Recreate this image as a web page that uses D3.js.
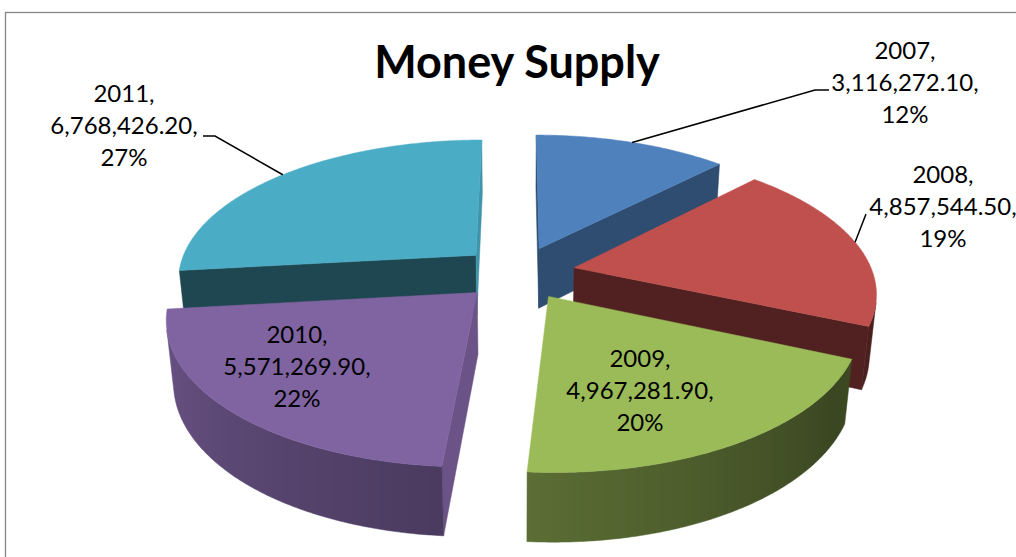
<!DOCTYPE html>
<html>
<head>
<meta charset="utf-8">
<script src="https://cdn.jsdelivr.net/npm/d3@7"></script>
<style>
  html, body { margin: 0; padding: 0; background: #ffffff; }
  svg { display: block; }
</style>
</head>
<body>
<script>
// ---- data ----
const years = ["2007", "2008", "2009", "2010", "2011"];
const values = [3116272.10, 4857544.50, 4967281.90, 5571269.90, 6768426.20];
const sliceColors = ["#4f81bd", "#c0504d", "#9bbb59", "#8064a2", "#4bacc6"];
const chartTitle = "Money Supply";

// ---- layout ----
const W = 1016, H = 557;
const view = {
  cx: 518, cy: 272.8,      // screen position of the pie centre (top plane)
  radius: 298.6,           // pie radius, world units
  explode: 57.5,           // slice offset along its mid angle
  depth: 70,               // pie thickness
  tilt: Math.asin(0.466),  // camera elevation
  dist: 1635               // camera distance (also focal length)
};
// label placement: text anchor (centre x, first baseline), leader end points
const labelLayout = [
  { x: 905, y: 59.3, leader: [[815, 90], [829, 90]] },
  { x: 943, y: 183.3, leader: [[866, 214]] },
  { x: 640, y: 367.3 },
  { x: 297, y: 343.3 },
  { x: 124, y: 102, leader: [[215, 136], [203, 136]] }
];
const lineGap = 32;

// shading factors by outward-normal direction (degrees clockwise from the back)
const sideShade = [[0, 0.40], [90, 0.40], [125, 0.38], [185, 0.59], [270, 0.86], [360, 0.40]];
const cutShade = [[0, 0.6], [90, 0.86], [133, 0.6], [173, 0.41], [202, 0.41], [270, 0.6], [360, 0.6]];

function interp(table, deg) {
  deg = ((deg % 360) + 360) % 360;
  for (let i = 0; i < table.length - 1; i++) {
    const [a0, v0] = table[i], [a1, v1] = table[i + 1];
    if (deg >= a0 && deg <= a1) return v0 + (v1 - v0) * (deg - a0) / (a1 - a0);
  }
  return table[table.length - 1][1];
}
function shade(color, k) {
  const c = d3.rgb(color);
  return d3.rgb(c.r * k, c.g * k, c.b * k).formatHex();
}

// ---- 3D projection ----
const sT = Math.sin(view.tilt), cT = Math.cos(view.tilt);
const camera = [0, view.dist * sT, view.dist * cT];
function project([X, Y, Z]) {
  const yc = Y * cT - Z * sT;
  const d = view.dist - Z * cT - Y * sT;
  return [view.cx + view.dist * X / d, view.cy - view.dist * yc / d];
}
function onRim(off, angle, r, Y) {
  return [off[0] + r * Math.sin(angle), Y, off[1] - r * Math.cos(angle)];
}
function facing(P, n) {
  return (camera[0] - P[0]) * n[0] + (camera[2] - P[2]) * n[1] > 0;
}
const toDeg = a => a * 180 / Math.PI;

// ---- svg ----
const svg = d3.select("body").append("svg").attr("width", W).attr("height", H);
const defs = svg.append("defs");

// chart area border
svg.append("rect")
  .attr("x", 5.5).attr("y", 12.5).attr("width", W + 20).attr("height", H + 20)
  .attr("fill", "#ffffff").attr("stroke", "#868686").attr("stroke-width", 1.3);

const pie = d3.pie().sort(null).value(d => d)
  .startAngle(0).endAngle(2 * Math.PI);
const arcs = pie(values);
const total = d3.sum(values);
const fmtValue = d3.format(",.2f");
const fmtPct = d3.format(".0%");

const R = view.radius, h = view.depth;
const line = d3.line();

const slices = arcs.map((a, i) => {
  const mid = (a.startAngle + a.endAngle) / 2;
  const off = [view.explode * Math.sin(mid), -view.explode * Math.cos(mid)];
  const faces = [];
  const steps = Math.max(4, Math.ceil(toDeg(a.endAngle - a.startAngle) * 2));
  const angs = d3.range(steps + 1).map(k => a.startAngle + (a.endAngle - a.startAngle) * k / steps);
  const apexTop = [off[0], 0, off[1]], apexBot = [off[0], -h, off[1]];

  // radial cut faces
  const cuts = [
    { ang: a.startAngle, n: [-Math.cos(a.startAngle), -Math.sin(a.startAngle)], dir: toDeg(a.startAngle) - 90 },
    { ang: a.endAngle, n: [Math.cos(a.endAngle), Math.sin(a.endAngle)], dir: toDeg(a.endAngle) + 90 }
  ];
  cuts.forEach(cf => {
    const oT = onRim(off, cf.ang, R, 0), oB = onRim(off, cf.ang, R, -h);
    const midP = onRim(off, cf.ang, R / 2, -h / 2);
    if (facing(midP, cf.n)) {
      faces.push({ pts: [apexTop, oT, oB, apexBot].map(project), fill: shade(sliceColors[i], interp(cutShade, cf.dir)) });
    }
  });

  // curved outer side: visible run drawn as one band with a horizontal shading ramp
  const vis = angs.filter(t => facing(onRim(off, t, R, -h / 2), [Math.sin(t), -Math.cos(t)]));
  if (vis.length > 1) {
    const topPts = vis.map(t => project(onRim(off, t, R, 0)));
    const botPts = vis.map(t => project(onRim(off, t, R, -h))).reverse();
    const xs = topPts.map(p => p[0]);
    const x0 = d3.min(xs), x1 = d3.max(xs);
    const gid = "side-" + years[i];
    const stops = vis.map((t, k) => ({
      o: x1 > x0 ? (xs[k] - x0) / (x1 - x0) : 0,
      c: shade(sliceColors[i], interp(sideShade, toDeg(t)))
    })).sort((p, q) => p.o - q.o);
    const grad = defs.append("linearGradient").attr("id", gid)
      .attr("gradientUnits", "userSpaceOnUse")
      .attr("x1", x0).attr("y1", 0).attr("x2", x1).attr("y2", 0);
    grad.selectAll("stop").data(stops).join("stop")
      .attr("offset", d => d.o).attr("stop-color", d => d.c);
    faces.push({ pts: [...topPts, ...botPts], fill: `url(#${gid})` });
  }

  // top face
  faces.push({ pts: [apexTop, ...angs.map(t => onRim(off, t, R, 0))].map(project), fill: sliceColors[i] });

  const c = onRim(off, mid, R * 0.5, -h / 2);
  const dist = Math.hypot(c[0] - camera[0], c[1] - camera[1], c[2] - camera[2]);
  return { i, a, mid, off, faces, dist };
});

// farthest slices first
const pieG = svg.append("g").attr("class", "pie");
slices.slice().sort((p, q) => q.dist - p.dist).forEach(sl => {
  const g = pieG.append("g").attr("class", "slice-" + years[sl.i]);
  g.selectAll("path").data(sl.faces).join("path")
    .attr("d", f => line(f.pts) + "Z")
    .attr("fill", f => f.fill)
    .attr("stroke", f => f.fill)
    .attr("stroke-width", 0.5)
    .attr("stroke-linejoin", "round");
});

// title
svg.append("text")
  .attr("x", 517).attr("y", 78)
  .attr("text-anchor", "middle")
  .attr("font-family", "Lato, 'Open Sans', sans-serif")
  .attr("font-weight", "bold")
  .attr("font-size", 45)
  .attr("fill", "#000")
  .text(chartTitle);

// leader lines and data labels
const labelG = svg.append("g").attr("class", "labels");
slices.forEach(sl => {
  const L = labelLayout[sl.i];
  if (L.leader) {
    const start = project(onRim(sl.off, sl.mid, R, 0));
    labelG.append("path")
      .attr("d", line([start, ...L.leader]))
      .attr("fill", "none").attr("stroke", "#000").attr("stroke-width", 1.5);
  }
  const lines = [years[sl.i] + ",", fmtValue(values[sl.i]) + ",", fmtPct(values[sl.i] / total)];
  const t = labelG.append("text")
    .attr("text-anchor", "middle")
    .attr("font-family", "Lato, 'Open Sans', sans-serif")
    .attr("font-size", 24)
    .attr("fill", "#000");
  lines.forEach((s, k) => {
    t.append("tspan").attr("x", L.x).attr("y", L.y + k * lineGap).text(s);
  });
});
</script>
</body>
</html>
